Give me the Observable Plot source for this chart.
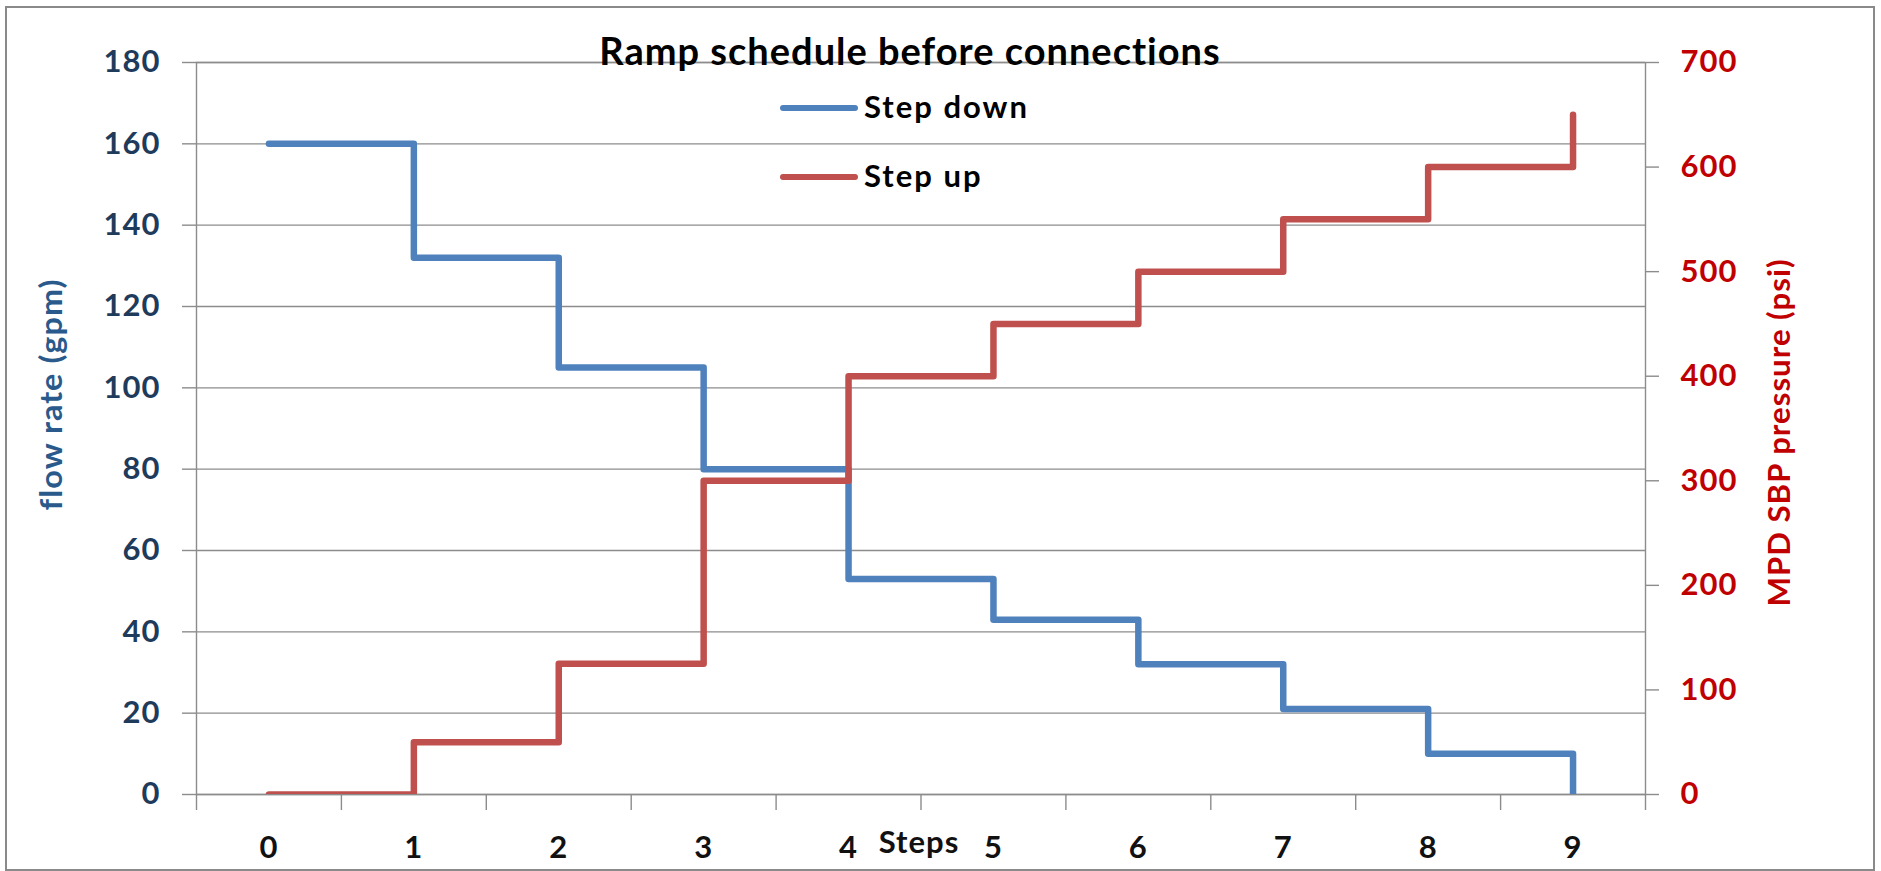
<!DOCTYPE html>
<html>
<head>
<meta charset="utf-8">
<script src="https://cdn.jsdelivr.net/npm/d3@7"></script>
<script src="https://cdn.jsdelivr.net/npm/@observablehq/plot@0.6"></script>
<style>
  html, body { margin: 0; padding: 0; background: #fff; overflow: hidden; }
  #wrap { position: relative; width: 1881px; height: 871px; }
  #wrap svg { position: absolute; left: 0; top: 0; }
  #border { position: absolute; left: 5px; top: 6px; width: 1870px; height: 865px; box-sizing: border-box; border: 2px solid #8a8a8a; pointer-events: none; }
  .sw { position: absolute; height: 6px; border-radius: 3px; }
  .lg { position: absolute; font-family: Lato, "Open Sans", sans-serif; font-weight: bold; font-size: 31px; line-height: 30px; color: #000; letter-spacing: 2px; white-space: nowrap; }
</style>
</head>
<body>
<div id="wrap"><div id="border"></div></div>
<script>
// ---- data ----
const steps = [0, 1, 2, 3, 4, 5, 6, 7, 8, 9];
const flowRate = [160, 132, 105, 80, 53, 43, 32, 21, 10, 0];          // gpm, left axis
const sbpPressure = [0, 50, 125, 300, 400, 450, 500, 550, 600, 650];  // psi, right axis
const flowTicks = [0, 20, 40, 60, 80, 100, 120, 140, 160, 180];
const pressureTicks = [0, 100, 200, 300, 400, 500, 600, 700];
const seriesNames = ["Step down", "Step up"];
const seriesColors = ["#4F81BD", "#C0504D"];
const titleText = "Ramp schedule before connections";
const xTitle = "Steps";
const yLeftTitle = "flow rate (gpm)";
const yRightTitle = "MPD SBP pressure (psi)";

// ---- derived ----
const ratio = d3.max(flowTicks) / d3.max(pressureTicks);
const xDomain = [d3.min(steps) - 0.5, d3.max(steps) + 0.5];
const boundaries = d3.range(xDomain[0], xDomain[1] + 0.01, 1);
const flowData = steps.map((s, i) => ({step: s, value: flowRate[i]}));
const pressData = steps.map((s, i) => ({step: s, value: sbpPressure[i] * ratio}));

const font = "Lato, 'Open Sans', sans-serif";
const grid = "#8c8c8c";

const chart = Plot.plot({
  width: 1881,
  height: 871,
  marginTop: 62,
  marginBottom: 77,
  marginLeft: 196,
  marginRight: 236,
  x: {domain: xDomain, axis: null},
  y: {domain: [d3.min(flowTicks), d3.max(flowTicks)], axis: null},
  style: {fontFamily: font, fontWeight: "bold", background: "transparent", overflow: "visible", letterSpacing: "1px"},
  marks: [
    Plot.gridY(flowTicks, {stroke: grid, strokeOpacity: 1, strokeWidth: 1.4}),
    Plot.frame({stroke: grid, strokeWidth: 1.4}),
    Plot.axisY(flowTicks, {anchor: "left", tickSize: 14, tickPadding: 22, stroke: grid, strokeWidth: 1.4, fill: "#1F3B5C", fontSize: 31, fontWeight: "bold", label: null}),
    Plot.axisY(pressureTicks.map(p => p * ratio), {anchor: "right", tickSize: 13, tickPadding: 22, tickFormat: d => String(Math.round(d / ratio)), stroke: grid, strokeWidth: 1.4, fill: "#C00000", fontSize: 31, fontWeight: "bold", label: null}),
    Plot.axisX(boundaries, {anchor: "bottom", tickSize: 16, tickFormat: () => "", stroke: grid, strokeWidth: 1.4, label: null}),
    Plot.axisX(steps, {anchor: "bottom", tickSize: 0, tickPadding: 41, tickFormat: d3.format("d"), fill: "#111", fontSize: 31, fontWeight: "bold", label: null}),
    Plot.line(flowData, {x: "step", y: "value", curve: "step-after", stroke: seriesColors[0], strokeWidth: 6.5, clip: true}),
    Plot.line(pressData, {x: "step", y: "value", curve: "step-after", stroke: seriesColors[1], strokeWidth: 6.5, clip: true}),
    Plot.text([titleText], {frameAnchor: "top", dy: -24, dx: -11, fontSize: 38, fontWeight: "bold", fill: "#000"}),
    Plot.text([xTitle], {frameAnchor: "bottom", dy: 58, dx: -2, fontSize: 31, fontWeight: "bold", fill: "#111"}),
    Plot.text([yLeftTitle], {frameAnchor: "left", textAnchor: "middle", dx: -144, dy: -34, rotate: -90, fontSize: 30, fontWeight: "bold", fill: "#2A5A8C"}),
    Plot.text([yRightTitle], {frameAnchor: "right", textAnchor: "middle", dx: 135, dy: 4, rotate: -90, fontSize: 30, fontWeight: "bold", fill: "#C00000"})
  ]
});

const wrap = document.getElementById("wrap");
wrap.insertBefore(chart, wrap.firstChild);

// stretch the axis titles to the reference's lengths
const stretch = {[yLeftTitle]: 232, [yRightTitle]: 348};
chart.querySelectorAll("text").forEach(t => {
  const len = stretch[t.textContent];
  if (len) {
    t.setAttribute("textLength", len);
    t.setAttribute("lengthAdjust", "spacingAndGlyphs");
  }
});

// legend (HTML, built from the series arrays)
const legendTop = [105, 174];
seriesNames.forEach((name, i) => {
  const sw = document.createElement("div");
  sw.className = "sw";
  sw.style.left = "780px";
  sw.style.width = "78px";
  sw.style.top = legendTop[i] + "px";
  sw.style.background = seriesColors[i];
  wrap.appendChild(sw);
  const lg = document.createElement("div");
  lg.className = "lg";
  lg.style.left = "864px";
  lg.style.top = (legendTop[i] - 14) + "px";
  lg.textContent = name;
  wrap.appendChild(lg);
});
</script>
</body>
</html>
